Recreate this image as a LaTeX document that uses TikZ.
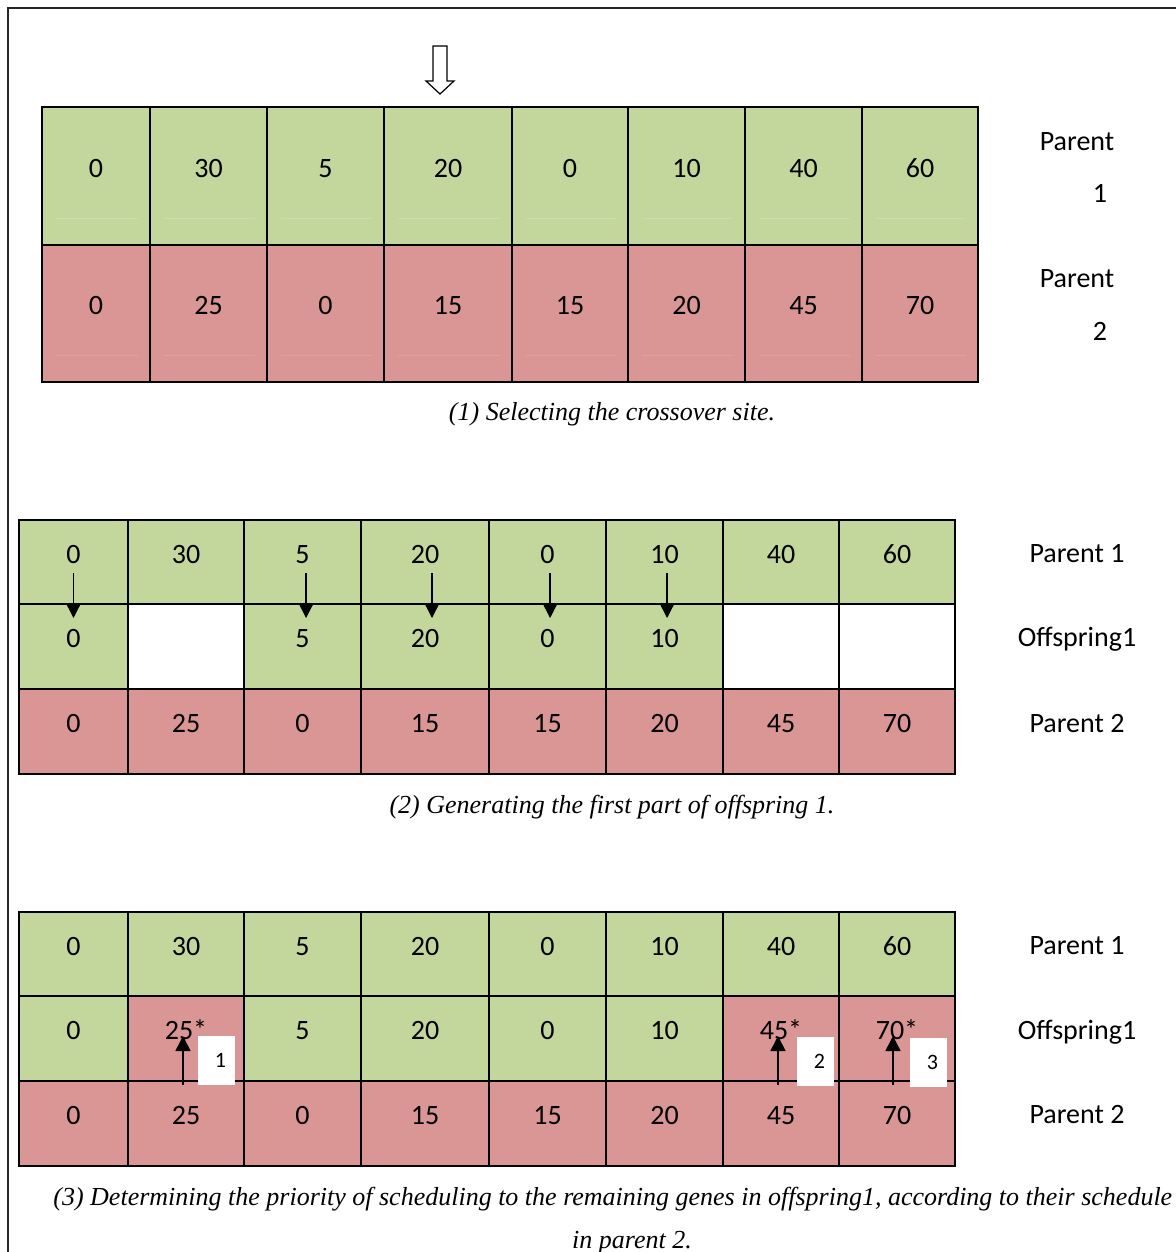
\documentclass[tikz,border=0pt]{standalone}
\usepackage{fontspec}
\setmainfont{Carlito}
\newfontfamily\capfont{Liberation Serif}
\usetikzlibrary{arrows.meta}
\definecolor{genegreen}{HTML}{C3D69B}
\definecolor{genered}{HTML}{D99694}

% one gene cell: name, x-left, x-right, y-top, y-bottom, fill style, value
\newcommand\genecell[7]{%
  \node[cellbox,#6,minimum width={(#3-#2)*0.5pt},minimum height={(#5-#4)*0.5pt}]
    (#1) at ({(#2+#3)/2},{(#4+#5)/2}) {#7};}

\begin{document}
\begin{tikzpicture}[x=0.5pt,y=-0.5pt,
  cellbox/.style={draw=black,line width=1.2pt,inner sep=0pt,outer sep=0pt,
    font=\fontsize{14}{16}\selectfont,text height=9pt,text depth=8pt},
  pone/.style={fill=genegreen},
  ptwo/.style={fill=genered},
  blank/.style={fill=white},
  rowlabel/.style={font=\fontsize{14}{16}\selectfont,inner sep=0pt,anchor=base},
  caption/.style={font=\capfont\itshape\fontsize{13}{15}\selectfont,inner sep=0pt,anchor=base},
  tagbox/.style={fill=white,inner sep=0pt,font=\fontsize{11}{12}\selectfont},
  copyarrow/.style={-{Triangle[length=7pt,width=7pt]},line width=0.65pt},
  promote/.style={-{Triangle[length=7.5pt,width=7.5pt]},line width=0.85pt}
]
\useasboundingbox (0,0) rectangle (1176,1252);

% page frame
\draw[line width=1.2pt,black!85] (8,1262) -- (8,8) -- (1186,8);

% ---------- (1) parents and crossover site ----------
\foreach \xa/\xb/\pa/\pb [count=\i] in
  {42/150/0/0, 150/267/30/25, 267/384/5/0, 384/512/20/15,
   512/628/0/15, 628/745/10/20, 745/862/40/45, 862/978/60/70}
{
  \genecell{a1-\i}{\xa}{\xb}{107}{245}{pone}{\pa}
  \genecell{a2-\i}{\xa}{\xb}{245}{382}{ptwo}{\pb}
  \draw[genegreen!85!white,line width=0.5pt] (\xa+14,218) -- (\xb-12,218);
  \draw[genered!88!white,line width=0.5pt] (\xa+14,355) -- (\xb-12,355);
}

% crossover marker
\draw[line width=0.6pt,fill=white]
  (433,46) -- (447,46) -- (447,81) -- (454,81) -- (440,94)
  -- (426,81) -- (433,81) -- cycle;

\node[rowlabel] (l1a) at (1077,150) {Parent};
\node[rowlabel] (l1b) at (1100,202) {1};
\node[rowlabel] (l2a) at (1077,287) {Parent};
\node[rowlabel] (l2b) at (1100,340) {2};

\node[caption] (cap1) at (612,420) {(1) Selecting the crossover site.};

% ---------- (2) first part of offspring 1 ----------
\foreach \xa/\xb/\pa/\os/\ov/\pb [count=\i] in
  {19/128/0/pone/0/0, 128/244/30/blank/{}/25, 244/361/5/pone/5/0,
   361/489/20/pone/20/15, 489/606/0/pone/0/15, 606/723/10/pone/10/20,
   723/839/40/blank/{}/45, 839/955/60/blank/{}/70}
{
  \genecell{b1-\i}{\xa}{\xb}{520}{604}{pone}{\pa}
  \genecell{b2-\i}{\xa}{\xb}{604}{689}{\os}{\ov}
  \genecell{b3-\i}{\xa}{\xb}{689}{774}{ptwo}{\pb}
}

\foreach \i/\dx in {1/0, 3/1.8pt, 4/3.5pt, 5/1.3pt, 6/1.3pt}
  \draw[copyarrow] ([xshift=\dx,yshift=-5.5pt]b1-\i.center)
    -- ([xshift=\dx,yshift=14.25pt]b2-\i.center);

\node[rowlabel] (m1) at (1077,562) {Parent 1};
\node[rowlabel] (m2) at (1077,646) {Offspring1};
\node[rowlabel] (m3) at (1077,732) {Parent 2};

\node[caption] (cap2) at (612,813) {(2) Generating the first part of offspring 1.};

% ---------- (3) remaining genes from parent 2 ----------
\foreach \xa/\xb/\pa/\os/\ov/\pb [count=\i] in
  {19/128/0/pone/0/0, 128/244/30/ptwo/25*/25, 244/361/5/pone/5/0,
   361/489/20/pone/20/15, 489/606/0/pone/0/15, 606/723/10/pone/10/20,
   723/839/40/ptwo/45*/45, 839/955/60/ptwo/70*/70}
{
  \genecell{c1-\i}{\xa}{\xb}{912}{996}{pone}{\pa}
  \genecell{c2-\i}{\xa}{\xb}{996}{1081}{\os}{\ov}
  \genecell{c3-\i}{\xa}{\xb}{1081}{1166}{ptwo}{\pb}
}

\foreach \i/\dx in {2/-1.5pt, 7/-1.5pt, 8/-2pt}
  \draw[promote] ([xshift=\dx,yshift=-2pt]c3-\i.north)
    -- ([xshift=\dx,yshift=1.25pt]c2-\i.center);

\node[tagbox,minimum width=18.5pt,minimum height=24.5pt] (t1) at (216.5,1060.5) {\hspace*{4pt}1};
\node[tagbox,minimum width=18.5pt,minimum height=24.5pt] (t2) at (815.5,1061.5) {\hspace*{4pt}2};
\node[tagbox,minimum width=18.5pt,minimum height=24.5pt] (t3) at (928.5,1062.5) {\hspace*{4pt}3};

\node[rowlabel] (n1) at (1077,954) {Parent 1};
\node[rowlabel] (n2) at (1077,1039) {Offspring1};
\node[rowlabel] (n3) at (1077,1123) {Parent 2};

\node[caption,anchor=base west] (cap3a) at (53,1205)
  {(3) Determining the priority of scheduling to the remaining genes in offspring1, according to their schedule};
\node[caption] (cap3b) at (632,1248) {in parent 2.};

\end{tikzpicture}
\end{document}
